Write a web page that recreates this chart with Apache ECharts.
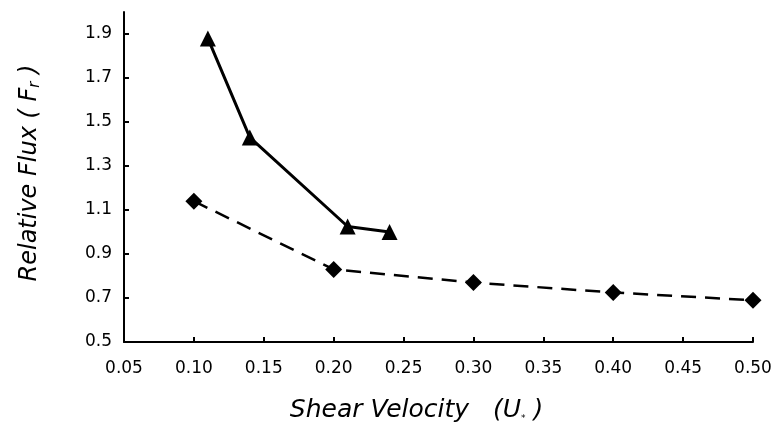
<!DOCTYPE html>
<html>
<head>
<meta charset="utf-8">
<script src="https://cdn.jsdelivr.net/npm/echarts@6/dist/echarts.min.js"></script>
<style>html,body{margin:0;padding:0;background:#fff}#c{width:778px;height:428px}</style>
</head>
<body>
<div id="c"></div>
<script>
var triX = [0.11, 0.14, 0.21, 0.24];
var triY = [1.88, 1.43, 1.025, 1.0];
var diaX = [0.10, 0.20, 0.30, 0.40, 0.50];
var diaY = [1.14, 0.83, 0.77, 0.725, 0.69];
var xTicks = [0.05, 0.10, 0.15, 0.20, 0.25, 0.30, 0.35, 0.40, 0.45, 0.50];
var yTicks = [0.5, 0.7, 0.9, 1.1, 1.3, 1.5, 1.7, 1.9];

function pairs(xs, ys) { return xs.map(function (x, i) { return [x, ys[i]]; }); }

var FONT = 'DejaVu Sans';
var chart = echarts.init(document.getElementById('c'));
chart.setOption({
  animation: false,
  grid: { left: 124, right: 25, top: 12, bottom: 86 },
  xAxis: {
    type: 'value', min: 0.05, max: 0.5, interval: 0.05,
    splitLine: { show: false },
    axisLine: { lineStyle: { color: '#000', width: 2 } },
    axisTick: { inside: true, length: 5, lineStyle: { color: '#000', width: 2 }, customValues: xTicks },
    axisLabel: { customValues: xTicks, margin: 18, color: '#000', fontSize: 17, fontFamily: FONT, formatter: function (v) { return v.toFixed(2); } },
    name: 'Shear Velocity   (U{s|*} )',
    nameLocation: 'middle', nameGap: 56,
    nameTextStyle: { fontSize: 25, fontStyle: 'italic', fontFamily: FONT, color: '#000', padding: [0, 44, 0, 0],
      rich: { s: { fontSize: 9, fontFamily: FONT, verticalAlign: 'bottom', padding: [11, 0, 0, 0], color: '#000' } } }
  },
  yAxis: {
    type: 'value', min: 0.5, max: 2.0, interval: 0.2,
    splitLine: { show: false },
    axisLine: { lineStyle: { color: '#000', width: 2 } },
    axisTick: { inside: true, length: 5, lineStyle: { color: '#000', width: 2 }, customValues: yTicks },
    axisLabel: { customValues: yTicks, margin: 12, color: '#000', fontSize: 17, fontFamily: FONT, formatter: function (v) { return v.toFixed(1); } },
    name: 'Relative Flux ( F{s|r} )',
    nameLocation: 'middle', nameGap: 81,
    nameTextStyle: { fontSize: 24, fontStyle: 'italic', fontFamily: FONT, color: '#000', padding: [0, 0, 0, 8],
      rich: { s: { fontSize: 15, fontStyle: 'italic', fontFamily: FONT, verticalAlign: 'bottom', padding: [12, 0, 0, 0], color: '#000' } } }
  },
  series: [
    {
      type: 'line', data: pairs(triX, triY),
      symbol: 'triangle', symbolSize: 16,
      itemStyle: { color: '#000' },
      lineStyle: { color: '#000', width: 3 }
    },
    {
      type: 'line', data: pairs(diaX, diaY),
      symbol: 'diamond', symbolSize: 17,
      itemStyle: { color: '#000' },
      lineStyle: { color: '#000', width: 2.5, type: [15, 9] }
    }
  ]
});
</script>
</body>
</html>
